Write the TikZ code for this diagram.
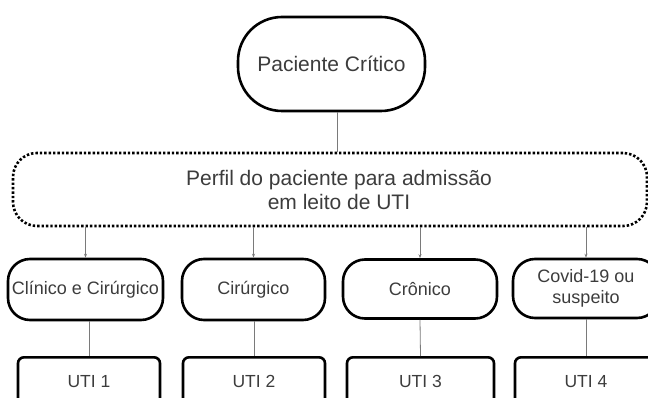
\documentclass[tikz,border=0pt]{standalone}
\usepackage{fontspec}
\setmainfont{Liberation Sans}
\usetikzlibrary{arrows.meta}
\definecolor{txt}{HTML}{3C3C3C}
\definecolor{wire}{HTML}{7A7A7A}
\begin{document}
\begin{tikzpicture}[x=1pt,y=-1pt,
  every node/.style={font=\fontsize{18}{21}\selectfont, text=txt},
  pill/.style={draw=black, line width=2.6pt, rounded corners=#1, align=center, inner sep=0pt},
  pill/.default=22pt,
  dotbox/.style={draw=black, line width=2.6pt, dash pattern=on 2.4pt off 2pt,
    rounded corners=24pt, align=center, inner sep=0pt},
  utibox/.style={draw=black, line width=2.6pt, rounded corners=6pt, anchor=north,
    font=\fontsize{17.5}{21}\selectfont,
    inner xsep=0pt, inner ysep=17pt, text height=13pt, text depth=40pt},
  link/.style={draw=wire, line width=0.8pt},
  arrowlink/.style={link, -{Stealth[length=4pt,width=3pt]}}
]
\clip (0,0) rectangle (648,398);
\useasboundingbox (0,0) rectangle (648,398);

% root
\node[pill=44pt, minimum width=187pt, minimum height=94pt,
  font=\fontsize{21}{24}\selectfont] (root) at (331.5,64) {Paciente Crítico};

% admission profile (text sits a little right of the frame's centre)
\node[dotbox, minimum width=634pt, minimum height=73pt,
  font=\fontsize{21}{24}\selectfont] (perfil) at (330,189.5)
  {\hspace*{18pt}Perfil do paciente para admissão\\\hspace*{18pt}em leito de UTI};

% patient categories
\node[pill, minimum width=155pt, minimum height=61pt] (c1) at (85.5,289.5) {Clínico e Cirúrgico};
\node[pill, minimum width=143pt, minimum height=61pt] (c2) at (253.5,289.5) {Cirúrgico};
\node[pill, minimum width=154pt, minimum height=59pt] (c3) at (420,289) {Crônico};
\node[pill, minimum width=146pt, minimum height=59pt] (c4) at (586,288.5) {Covid-19 ou\\suspeito};

% units
\node[utibox, minimum width=142pt] (u1) at (89,356) {UTI 1};
\node[utibox, minimum width=142pt] (u2) at (254,356) {UTI 2};
\node[utibox, minimum width=147pt] (u3) at (420.5,356) {UTI 3};
\node[utibox, minimum width=142pt] (u4) at (586,356) {UTI 4};

% connectors
\draw[link] ([xshift=6pt]root.south) -- ([xshift=6pt]root.south |- perfil.north);
\foreach \c in {c1,c2,c3,c4}
  \draw[arrowlink] (perfil.south -| \c.north) -- (\c.north);
\draw[link] (c1.south -| u1.north) -- (u1.north);
\draw[link] (c2.south -| u2.north) -- (u2.north);
\draw[link] (c3.south) -- (u3.north);
\draw[link] (c4.south) -- (u4.north);
\end{tikzpicture}
\end{document}
